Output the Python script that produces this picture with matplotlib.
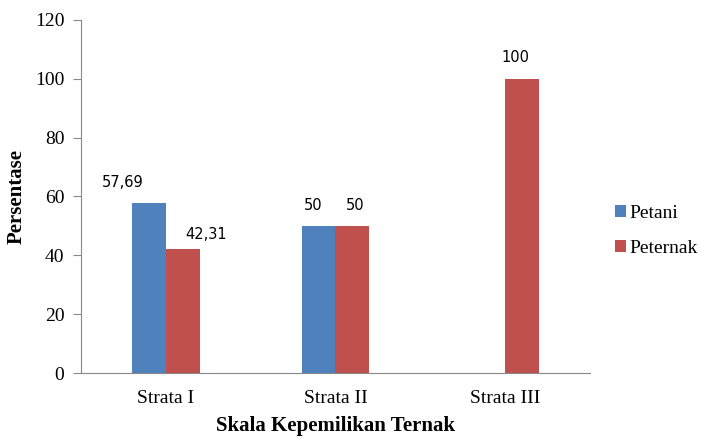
import matplotlib
matplotlib.use('Agg')
from matplotlib import pyplot as plt
import numpy as np

categories = ['Strata I', 'Strata II', 'Strata III']
petani = [57.69, 50, 0]
peternak = [42.31, 50, 100]
petani_labels = ['57,69', '50', '']
peternak_labels = ['42,31', '50', '100']

fig = plt.figure(figsize=(7.04, 4.41), dpi=100)
ax = fig.add_axes([0.115, 0.154, 0.723, 0.801])

x = np.arange(len(categories))
w = 0.2
b1 = ax.bar(x - w / 2, petani, w, color='#4F81BD', label='Petani')
b2 = ax.bar(x + w / 2, peternak, w, color='#C0504D', label='Peternak')

# Data labels (shifted slightly like the original)
petani_shift = [-19, -4, 0]
peternak_shift = [17, 2, -5]
for rect, lab, dx in zip(b1, petani_labels, petani_shift):
    if lab:
        ax.annotate(lab, (rect.get_x() + rect.get_width() / 2, rect.get_height()),
                    xytext=(dx, 15), textcoords='offset points',
                    ha='center', va='center', fontsize=10.5, family='DejaVu Sans')
for rect, lab, dx in zip(b2, peternak_labels, peternak_shift):
    dy = 10 if rect.get_height() < 45 else 15
    ax.annotate(lab, (rect.get_x() + rect.get_width() / 2, rect.get_height()),
                xytext=(dx, dy), textcoords='offset points',
                ha='center', va='center', fontsize=10.5, family='DejaVu Sans')

ax.set_xlim(-0.5, 2.5)
ax.set_ylim(0, 120)
ax.set_yticks(np.arange(0, 121, 20))
ax.set_xticks(x)
ax.set_xticklabels(categories, family='Liberation Serif', fontsize=14)
for t in ax.get_yticklabels():
    t.set_family('Liberation Serif')
    t.set_fontsize(14)
ax.tick_params(axis='x', length=0, pad=12)
ax.tick_params(axis='y', length=6, color='#888888', direction='out', pad=6)

for s in ['top', 'right']:
    ax.spines[s].set_visible(False)
ax.spines['left'].set_color('#888888')
ax.spines['bottom'].set_color('#888888')

ax.set_xlabel('Skala Kepemilikan Ternak', family='Liberation Serif', fontweight='bold', fontsize=15, labelpad=7)
ax.set_ylabel('Persentase', family='Liberation Serif', fontweight='bold', fontsize=15, labelpad=6)

ax.legend(loc='center left', bbox_to_anchor=(1.049, 0.402), frameon=False,
          borderpad=0, borderaxespad=0,
          prop={'family': 'Liberation Serif', 'size': 14},
          handlelength=0.57, handleheight=0.57, handletextpad=0.2, labelspacing=0.9)

plt.savefig('out.png', dpi=100)
